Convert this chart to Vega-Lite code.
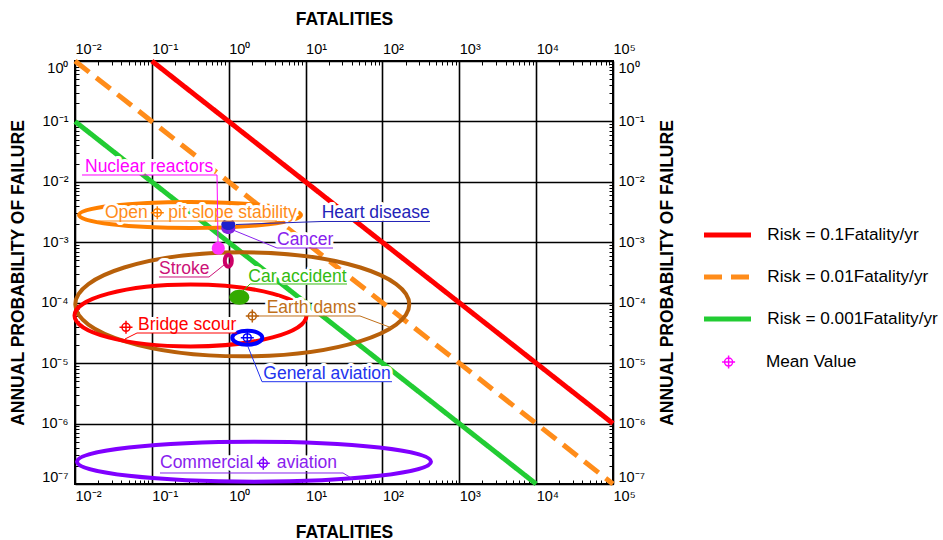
{
  "$schema": "https://vega.github.io/schema/vega-lite/v6.json",
  "width": 538,
  "height": 423,
  "autosize": {"type": "none"},
  "padding": {"left": 75, "top": 61, "right": 330, "bottom": 56},
  "config": {
    "font": "Liberation Sans",
    "view": {"stroke": "black", "strokeWidth": 2},
    "axis": {
      "domain": false,
      "tickColor": "black",
      "tickWidth": 1,
      "tickSize": -4,
      "labelFont": "Liberation Sans",
      "labelFontSize": 14.5,
      "labelColor": "black",
      "labelOverlap": false,
      "gridColor": "black",
      "gridWidth": 1.6,
      "titleFont": "Liberation Sans",
      "titleFontSize": 17.5,
      "titleFontWeight": "bold",
      "titleColor": "black"
    },
    "legend": {"labelFont": "Liberation Sans", "labelFontSize": 17.2, "labelColor": "black", "labelLimit": 400}
  },
  "datasets": {
    "risk": [
      {"series": "Risk = 0.1Fatality/yr", "x": 0.1, "y": 1},
      {"series": "Risk = 0.1Fatality/yr", "x": 100000, "y": 0.000001},
      {"series": "Risk = 0.01Fatality/yr", "x": 0.01, "y": 1},
      {"series": "Risk = 0.01Fatality/yr", "x": 100000, "y": 1e-7},
      {"series": "Risk = 0.001Fatality/yr", "x": 0.01, "y": 0.1},
      {"series": "Risk = 0.001Fatality/yr", "x": 10000, "y": 1e-7}
    ],
    "ranges": [
      {"cat": "Earth dams", "x": 1.502, "y": 9.414e-5},
      {"cat": "Bridge scour", "x": 0.3183, "y": 6.143e-5},
      {"cat": "Open pit slope stability", "x": 0.3135, "y": 0.002828},
      {"cat": "Commercial aviation", "x": 2.133, "y": 2.34e-7},
      {"cat": "General aviation", "x": 1.745, "y": 2.638e-5},
      {"cat": "Stroke", "x": 0.9876, "y": 4.959e-4}
    ],
    "blobs": [
      {"cat": "Cancer", "x": 0.9876, "y": 0.001691},
      {"cat": "Heart disease", "x": 0.9876, "y": 0.00197},
      {"cat": "Nuclear reactors", "x": 0.7316, "y": 7.955e-4},
      {"cat": "Car accident", "x": 1.373, "y": 1.229e-4}
    ],
    "means": [
      {"cat": "Open pit slope stability", "kind": "Mean Value", "x": 0.1177, "y": 0.003089},
      {"cat": "Earth dams", "kind": "Mean Value", "x": 2.027, "y": 6.03e-5},
      {"cat": "Bridge scour", "kind": "Mean Value", "x": 0.04609, "y": 3.918e-5},
      {"cat": "General aviation", "kind": "Mean Value", "x": 1.745, "y": 2.638e-5},
      {"cat": "Commercial aviation", "kind": "Mean Value", "x": 2.818, "y": 2.202e-7}
    ],
    "labels": [
      {"cat": "Nuclear reactors", "text": "Nuclear reactors", "x": 0.01349, "y": 0.01782},
      {"cat": "Open pit slope stability", "text": "Open", "x": 0.02457, "y": 0.003089},
      {"cat": "Open pit slope stability", "text": "pit slope stability", "x": 0.1637, "y": 0.003089},
      {"cat": "Heart disease", "text": "Heart disease", "x": 16.22, "y": 0.003089},
      {"cat": "Cancer", "text": "Cancer", "x": 4.248, "y": 0.001091},
      {"cat": "Stroke", "text": "Stroke", "x": 0.1238, "y": 3.573e-4},
      {"cat": "Car accident", "text": "Car accident", "x": 1.798, "y": 2.695e-4},
      {"cat": "Earth dams", "text": "Earth dams", "x": 3.12, "y": 8.08e-5},
      {"cat": "Bridge scour", "text": "Bridge scour", "x": 0.06602, "y": 4.278e-5},
      {"cat": "General aviation", "text": "General aviation", "x": 2.818, "y": 6.613e-6},
      {"cat": "Commercial aviation", "text": "Commercial", "x": 0.1276, "y": 2.202e-7},
      {"cat": "Commercial aviation", "text": "aviation", "x": 4.211, "y": 2.202e-7}
    ],
    "leaders": [
      {"cat": "Nuclear reactors", "seq": 1, "x": 0.01233, "y": 0.01299},
      {"cat": "Nuclear reactors", "seq": 2, "x": 0.7042, "y": 0.01299},
      {"cat": "Nuclear reactors", "seq": 3, "x": 0.7256, "y": 0.001011},
      {"cat": "Open pit slope stability", "seq": 1, "x": 0.01992, "y": 0.00225},
      {"cat": "Open pit slope stability", "seq": 2, "x": 4.248, "y": 0.00225},
      {"cat": "Heart disease", "seq": 1, "x": 1.244, "y": 0.00197},
      {"cat": "Heart disease", "seq": 2, "x": 16.36, "y": 0.002208},
      {"cat": "Heart disease", "seq": 3, "x": 415.9, "y": 0.002208},
      {"cat": "Cancer", "seq": 1, "x": 1.137, "y": 0.001597},
      {"cat": "Cancer", "seq": 2, "x": 4.248, "y": 8.04e-4},
      {"cat": "Cancer", "seq": 3, "x": 22.75, "y": 8.04e-4},
      {"cat": "Stroke", "seq": 1, "x": 0.8684, "y": 4.209e-4},
      {"cat": "Stroke", "seq": 2, "x": 0.5541, "y": 2.665e-4},
      {"cat": "Stroke", "seq": 3, "x": 0.1238, "y": 2.665e-4},
      {"cat": "Car accident", "seq": 1, "x": 1.534, "y": 1.563e-4},
      {"cat": "Car accident", "seq": 2, "x": 1.892, "y": 2.041e-4},
      {"cat": "Car accident", "seq": 3, "x": 34.59, "y": 2.041e-4},
      {"cat": "Earth dams", "seq": 1, "x": 2.333, "y": 6.03e-5},
      {"cat": "Earth dams", "seq": 2, "x": 51.07, "y": 6.03e-5},
      {"cat": "Earth dams", "seq": 3, "x": 133.2, "y": 3.815e-5},
      {"cat": "Bridge scour", "seq": 1, "x": 0.04473, "y": 2.51e-5},
      {"cat": "Bridge scour", "seq": 2, "x": 0.06407, "y": 3.153e-5},
      {"cat": "Bridge scour", "seq": 3, "x": 1.282, "y": 3.153e-5},
      {"cat": "General aviation", "seq": 1, "x": 1.782, "y": 1.872e-5},
      {"cat": "General aviation", "seq": 2, "x": 2.711, "y": 4.932e-6},
      {"cat": "General aviation", "seq": 3, "x": 133.2, "y": 4.932e-6},
      {"cat": "Commercial aviation", "seq": 1, "x": 0.1276, "y": 1.521e-7},
      {"cat": "Commercial aviation", "seq": 2, "x": 30.69, "y": 1.521e-7},
      {"cat": "Commercial aviation", "seq": 3, "x": 41.41, "y": 1.21e-7}
    ]
  },
  "resolve": {
    "scale": {"color": "independent", "shape": "independent", "strokeDash": "independent"},
    "axis": {"x": "independent", "y": "independent"}
  },
  "layer": [
    {
      "data": {"name": "risk"},
      "mark": {"type": "line", "strokeWidth": 5, "strokeCap": "butt"},
      "encoding": {
        "x": {
          "field": "x", "type": "quantitative",
          "scale": {"type": "log", "domain": [0.01, 100000]},
          "axis": {
            "orient": "bottom",
            "values": [0.01,0.02,0.03,0.04,0.05,0.06,0.07,0.08,0.09,0.1,0.2,0.3,0.4,0.5,0.6,0.7,0.8,0.9,1,2,3,4,5,6,7,8,9,10,20,30,40,50,60,70,80,90,100,200,300,400,500,600,700,800,900,1000,2000,3000,4000,5000,6000,7000,8000,9000,10000,20000,30000,40000,50000,60000,70000,80000,90000,100000],
            "labelExpr": "abs(log(datum.value)/LN10 - round(log(datum.value)/LN10)) < 0.001 ? '10' + (round(log(datum.value)/LN10) < 0 ? '⁻' : '') + substring('⁰¹²³⁴⁵⁶⁷⁸⁹', abs(round(log(datum.value)/LN10)), abs(round(log(datum.value)/LN10)) + 1) : ''",
            "labelAlign": "left",
            "labelDx": -8,
            "labelPadding": 9,
            "labelFlush": false,
            "grid": true,
            "gridOpacity": {"condition": {"test": "abs(log(datum.value)/LN10 - round(log(datum.value)/LN10)) < 0.001", "value": 1}, "value": 0},
            "title": "FATALITIES",
            "titleY": 48,
            "titleBaseline": "middle"
          }
        },
        "y": {
          "field": "y", "type": "quantitative",
          "scale": {"type": "log", "domain": [1e-7, 1]},
          "axis": {
            "orient": "left",
            "values": [1e-7,2e-7,3e-7,4e-7,5e-7,6e-7,7e-7,8e-7,9e-7,1e-6,2e-6,3e-6,4e-6,5e-6,6e-6,7e-6,8e-6,9e-6,1e-5,2e-5,3e-5,4e-5,5e-5,6e-5,7e-5,8e-5,9e-5,0.0001,0.0002,0.0003,0.0004,0.0005,0.0006,0.0007,0.0008,0.0009,0.001,0.002,0.003,0.004,0.005,0.006,0.007,0.008,0.009,0.01,0.02,0.03,0.04,0.05,0.06,0.07,0.08,0.09,0.1,0.2,0.3,0.4,0.5,0.6,0.7,0.8,0.9,1],
            "labelExpr": "abs(log(datum.value)/LN10 - round(log(datum.value)/LN10)) < 0.001 ? '10' + (round(log(datum.value)/LN10) < 0 ? '⁻' : '') + substring('⁰¹²³⁴⁵⁶⁷⁸⁹', abs(round(log(datum.value)/LN10)), abs(round(log(datum.value)/LN10)) + 1) : ''",
            "labelPadding": 11,
            "labelFlush": true,
            "grid": true,
            "gridOpacity": {"condition": {"test": "abs(log(datum.value)/LN10 - round(log(datum.value)/LN10)) < 0.001", "value": 1}, "value": 0},
            "title": "ANNUAL PROBABILITY OF FAILURE",
            "titleX": -57,
            "titleBaseline": "middle"
          }
        },
        "color": {
          "field": "series", "type": "nominal",
          "scale": {"domain": ["Risk = 0.1Fatality/yr", "Risk = 0.01Fatality/yr", "Risk = 0.001Fatality/yr"], "range": ["#FF0000", "#FF8C1A", "#22CC33"]},
          "legend": {"title": null, "orient": "none", "legendX": 638, "legendY": 159.5, "symbolType": "M-2,0L2,0", "symbolSize": 552, "symbolStrokeWidth": 5, "rowPadding": 17, "labelOffset": 25.25}
        },
        "strokeDash": {
          "field": "series", "type": "nominal",
          "scale": {"domain": ["Risk = 0.1Fatality/yr", "Risk = 0.01Fatality/yr", "Risk = 0.001Fatality/yr"], "range": [[1, 0], [18, 9], [1, 0]]},
          "legend": {"title": null, "orient": "none", "legendX": 638, "legendY": 159.5, "symbolType": "M-2,0L2,0", "symbolSize": 552, "symbolStrokeWidth": 5, "rowPadding": 17, "labelOffset": 25.25}
        }
      }
    },
    {
      "data": {"name": "ranges"},
      "mark": {"type": "point", "filled": false, "size": 4, "strokeWidth": 4, "opacity": 1},
      "encoding": {
        "x": {
          "field": "x", "type": "quantitative",
          "scale": {"type": "log", "domain": [0.01, 100000]},
          "axis": {
            "orient": "top",
            "values": [0.01,0.02,0.03,0.04,0.05,0.06,0.07,0.08,0.09,0.1,0.2,0.3,0.4,0.5,0.6,0.7,0.8,0.9,1,2,3,4,5,6,7,8,9,10,20,30,40,50,60,70,80,90,100,200,300,400,500,600,700,800,900,1000,2000,3000,4000,5000,6000,7000,8000,9000,10000,20000,30000,40000,50000,60000,70000,80000,90000,100000],
            "labelExpr": "abs(log(datum.value)/LN10 - round(log(datum.value)/LN10)) < 0.001 ? '10' + (round(log(datum.value)/LN10) < 0 ? '⁻' : '') + substring('⁰¹²³⁴⁵⁶⁷⁸⁹', abs(round(log(datum.value)/LN10)), abs(round(log(datum.value)/LN10)) + 1) : ''",
            "labelAlign": "left",
            "labelDx": -8,
            "labelPadding": 9,
            "labelFlush": false,
            "grid": false,
            "title": "FATALITIES",
            "titleY": -42,
            "titleBaseline": "middle"
          }
        },
        "y": {
          "field": "y", "type": "quantitative",
          "scale": {"type": "log", "domain": [1e-7, 1]},
          "axis": {
            "orient": "right",
            "values": [1e-7,2e-7,3e-7,4e-7,5e-7,6e-7,7e-7,8e-7,9e-7,1e-6,2e-6,3e-6,4e-6,5e-6,6e-6,7e-6,8e-6,9e-6,1e-5,2e-5,3e-5,4e-5,5e-5,6e-5,7e-5,8e-5,9e-5,0.0001,0.0002,0.0003,0.0004,0.0005,0.0006,0.0007,0.0008,0.0009,0.001,0.002,0.003,0.004,0.005,0.006,0.007,0.008,0.009,0.01,0.02,0.03,0.04,0.05,0.06,0.07,0.08,0.09,0.1,0.2,0.3,0.4,0.5,0.6,0.7,0.8,0.9,1],
            "labelExpr": "abs(log(datum.value)/LN10 - round(log(datum.value)/LN10)) < 0.001 ? '10' + (round(log(datum.value)/LN10) < 0 ? '⁻' : '') + substring('⁰¹²³⁴⁵⁶⁷⁸⁹', abs(round(log(datum.value)/LN10)), abs(round(log(datum.value)/LN10)) + 1) : ''",
            "labelPadding": 9,
            "labelFlush": true,
            "grid": false,
            "title": "ANNUAL PROBABILITY OF FAILURE",
            "titleX": 54,
            "titleAngle": -90,
            "titleBaseline": "middle"
          }
        },
        "color": {
          "field": "cat", "type": "nominal", "legend": null,
          "scale": {"domain": ["Earth dams", "Bridge scour", "Open pit slope stability", "Commercial aviation", "General aviation", "Stroke"], "range": ["#B8600A", "#FF0000", "#FF8000", "#8000FF", "#0000FF", "#CC0066"]}
        },
        "shape": {
          "field": "cat", "type": "nominal", "legend": null,
          "scale": {"domain": ["Earth dams", "Bridge scour", "Open pit slope stability", "Commercial aviation", "General aviation", "Stroke"], "range": [
            "M-167,0A167,52,0,1,0,167,0A167,52,0,1,0,-167,0Z",
            "M-116,0A116,31,0,1,0,116,0A116,31,0,1,0,-116,0Z",
            "M-111,0A111,13,0,1,0,111,0A111,13,0,1,0,-111,0Z",
            "M-177,0A177,20,0,1,0,177,0A177,20,0,1,0,-177,0Z",
            "M-15,0A15,7,0,1,0,15,0A15,7,0,1,0,-15,0Z",
            "M-3.5,0A3.5,6,0,1,0,3.5,0A3.5,6,0,1,0,-3.5,0Z"
          ]}
        }
      }
    },
    {
      "data": {"name": "blobs"},
      "mark": {"type": "point", "filled": true, "size": 4, "opacity": 1},
      "encoding": {
        "x": {"field": "x", "type": "quantitative", "scale": {"type": "log", "domain": [0.01, 100000]}, "axis": null},
        "y": {"field": "y", "type": "quantitative", "scale": {"type": "log", "domain": [1e-7, 1]}, "axis": null},
        "color": {
          "field": "cat", "type": "nominal", "legend": null,
          "scale": {"domain": ["Cancer", "Heart disease", "Nuclear reactors", "Car accident"], "range": ["#7F22DD", "#2020CC", "#FF33FF", "#33AA00"]}
        },
        "shape": {
          "field": "cat", "type": "nominal", "legend": null,
          "scale": {"domain": ["Cancer", "Heart disease", "Nuclear reactors", "Car accident"], "range": [
            "M-7,0A7,5.5,0,1,0,7,0A7,5.5,0,1,0,-7,0Z",
            "M-7,0A7,5.5,0,1,0,7,0A7,5.5,0,1,0,-7,0Z",
            "M-6.5,0A6.5,6.5,0,1,0,6.5,0A6.5,6.5,0,1,0,-6.5,0Z",
            "M-10,0A10,7.5,0,1,0,10,0A10,7.5,0,1,0,-10,0Z"
          ]}
        }
      }
    },
    {
      "data": {"name": "labels"},
      "mark": {"type": "text", "align": "left", "baseline": "middle", "fontSize": 17.5, "font": "Liberation Sans", "color": "white", "stroke": "white", "strokeWidth": 6, "strokeJoin": "round"},
      "encoding": {
        "x": {"field": "x", "type": "quantitative", "scale": {"type": "log", "domain": [0.01, 100000]}, "axis": null},
        "y": {"field": "y", "type": "quantitative", "scale": {"type": "log", "domain": [1e-7, 1]}, "axis": null},
        "text": {"field": "text", "type": "nominal"}
      }
    },
    {
      "data": {"name": "leaders"},
      "mark": {"type": "line", "strokeWidth": 1},
      "encoding": {
        "x": {"field": "x", "type": "quantitative", "scale": {"type": "log", "domain": [0.01, 100000]}, "axis": null},
        "y": {"field": "y", "type": "quantitative", "scale": {"type": "log", "domain": [1e-7, 1]}, "axis": null},
        "order": {"field": "seq", "type": "quantitative"},
        "color": {
          "field": "cat", "type": "nominal", "legend": null,
          "scale": {"domain": ["Nuclear reactors", "Open pit slope stability", "Heart disease", "Cancer", "Stroke", "Car accident", "Earth dams", "Bridge scour", "General aviation", "Commercial aviation"], "range": ["#FF00FF", "#FF8C1A", "#2323B8", "#8822EE", "#CC1177", "#33BB11", "#C0701A", "#FF0000", "#2233EE", "#8822EE"]}
        }
      }
    },
    {
      "data": {"name": "means"},
      "mark": {"type": "point", "filled": false, "size": 4, "strokeWidth": 1.5, "opacity": 1},
      "encoding": {
        "x": {"field": "x", "type": "quantitative", "scale": {"type": "log", "domain": [0.01, 100000]}, "axis": null},
        "y": {"field": "y", "type": "quantitative", "scale": {"type": "log", "domain": [1e-7, 1]}, "axis": null},
        "color": {
          "field": "cat", "type": "nominal", "legend": null,
          "scale": {"domain": ["Open pit slope stability", "Earth dams", "Bridge scour", "General aviation", "Commercial aviation"], "range": ["#FF8000", "#B8600A", "#FF0000", "#0000FF", "#8000FF"]}
        },
        "shape": {
          "field": "kind", "type": "nominal",
          "scale": {"domain": ["Mean Value"], "range": ["M-4,0A4,4,0,1,0,4,0A4,4,0,1,0,-4,0M-6.5,0L6.5,0M0,-6.5L0,6.5"]},
          "legend": {"title": null, "orient": "none", "legendX": 645, "legendY": 292.5, "symbolStrokeColor": "#FF00FF", "symbolFillColor": "transparent", "symbolStrokeWidth": 1.5, "symbolSize": 4, "labelOffset": 28.7}
        }
      }
    },
    {
      "data": {"name": "labels"},
      "mark": {"type": "text", "align": "left", "baseline": "middle", "fontSize": 17.5, "font": "Liberation Sans"},
      "encoding": {
        "x": {"field": "x", "type": "quantitative", "scale": {"type": "log", "domain": [0.01, 100000]}, "axis": null},
        "y": {"field": "y", "type": "quantitative", "scale": {"type": "log", "domain": [1e-7, 1]}, "axis": null},
        "text": {"field": "text", "type": "nominal"},
        "color": {
          "field": "cat", "type": "nominal", "legend": null,
          "scale": {"domain": ["Nuclear reactors", "Open pit slope stability", "Heart disease", "Cancer", "Stroke", "Car accident", "Earth dams", "Bridge scour", "General aviation", "Commercial aviation"], "range": ["#FF00FF", "#FF8C1A", "#2323B8", "#8822EE", "#CC1177", "#33BB11", "#C0701A", "#FF0000", "#2233EE", "#8822EE"]}
        }
      }
    }
  ]
}
